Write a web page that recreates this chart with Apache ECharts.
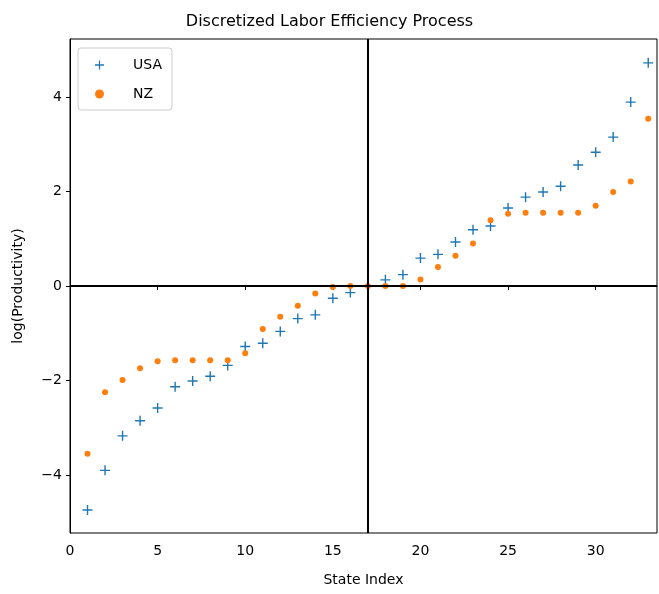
<!DOCTYPE html>
<html>
<head>
	<meta charset="UTF-8">
	<title>Discretized Labor Efficiency Process</title>
	<script src="https://cdn.jsdelivr.net/npm/echarts@6/dist/echarts.min.js"></script>
	<style>
		html, body { margin: 0; padding: 0; background: #fff; }
		#chart { width: 659px; height: 594px; }
	</style>
</head>
<body>
	<div id="chart"></div>
	<script type="text/javascript">
		// 状态序号
		var stateIndex = [1, 2, 3, 4, 5, 6, 7, 8, 9, 10, 11, 12, 13, 14, 15, 16, 17,
			18, 19, 20, 21, 22, 23, 24, 25, 26, 27, 28, 29, 30, 31, 32, 33];
		// USA log productivity
		var usaValues = [-4.74, -3.90, -3.17, -2.85, -2.58, -2.13, -2.01, -1.91, -1.68, -1.28, -1.21, -0.96, -0.69, -0.61, -0.26, -0.14, 0,
			0.13, 0.24, 0.59, 0.67, 0.93, 1.19, 1.27, 1.65, 1.88, 1.99, 2.11, 2.56, 2.83, 3.15, 3.89, 4.72];
		// NZ log productivity
		var nzValues = [-3.55, -2.25, -1.99, -1.74, -1.59, -1.57, -1.57, -1.57, -1.57, -1.42, -0.91, -0.65, -0.42, -0.16, -0.02, 0, 0,
			0, 0, 0.14, 0.40, 0.64, 0.90, 1.39, 1.53, 1.55, 1.55, 1.55, 1.55, 1.70, 1.99, 2.21, 3.54];
		// 坐标轴刻度
		var xTicks = [0, 5, 10, 15, 20, 25, 30];
		var yTicks = [-4, -2, 0, 2, 4];

		var plusPath = 'path://M4.3,0H5.7V4.3H10V5.7H5.7V10H4.3V5.7H0V4.3H4.3Z';

		function pairs(xs, ys) {
			var out = [];
			for (var i = 0; i < xs.length; i++) {
				out.push([xs[i], ys[i]]);
			}
			return out;
		}

		var myChart = echarts.init(document.getElementById('chart'));

		var option = {
			animation: false,
			backgroundColor: '#fff',
			title: {
				text: 'Discretized Labor Efficiency Process',
				left: 'center',
				top: 9,
				textStyle: { fontFamily: 'DejaVu Sans', fontSize: 16, fontWeight: 'normal', color: '#000' }
			},
			legend: {
				orient: 'vertical',
				left: 78,
				top: 48,
				padding: [10, 10, 9, 17],
				itemGap: 15,
				itemWidth: 9,
				itemHeight: 9,
				backgroundColor: '#fff',
				borderColor: '#ccc',
				borderWidth: 1,
				borderRadius: 3,
				textStyle: { fontFamily: 'DejaVu Sans', fontSize: 14, color: '#000', padding: [0, 0, 0, 24] },
				data: [
					{ name: 'USA', icon: plusPath, itemStyle: { opacity: 1 } },
					{ name: 'NZ', icon: 'circle', itemStyle: { opacity: 1 } }
				]
			},
			grid: {
				left: 70,
				right: 2,
				top: 39,
				bottom: 61,
				show: true,
				borderColor: '#000',
				borderWidth: 1
			},
			xAxis: {
				type: 'value',
				min: 0,
				max: 33.5,
				name: 'State Index',
				nameLocation: 'middle',
				nameGap: 40,
				nameTextStyle: { fontFamily: 'DejaVu Sans', fontSize: 14, color: '#000' },
				axisLine: { show: true, lineStyle: { color: '#000', width: 1 } },
				axisTick: { show: true, length: 4, customValues: xTicks, lineStyle: { color: '#000' } },
				axisLabel: {
					margin: 11,
					customValues: xTicks,
					fontFamily: 'DejaVu Sans', fontSize: 14, color: '#000'
				},
				splitLine: { show: false }
			},
			yAxis: {
				type: 'value',
				min: -5.225,
				max: 5.225,
				name: 'log(Productivity)',
				nameLocation: 'middle',
				nameGap: 45,
				nameTextStyle: { fontFamily: 'DejaVu Sans', fontSize: 14, color: '#000' },
				axisLine: { show: true, lineStyle: { color: '#000', width: 1 } },
				axisTick: { show: true, length: 4, customValues: yTicks, lineStyle: { color: '#000' } },
				axisLabel: {
					margin: 8,
					customValues: yTicks,
					fontFamily: 'DejaVu Sans', fontSize: 14, color: '#000',
					formatter: function (v) {
						return v < 0 ? '\u2212' + Math.abs(v) : String(v);
					}
				},
				splitLine: { show: false }
			},
			series: [{
				name: 'axes',
				type: 'scatter',
				data: [],
				z: 1,
				silent: true,
				markLine: {
					silent: true,
					symbol: 'none',
					label: { show: false },
					lineStyle: { color: '#000', width: 2, type: 'solid' },
					data: [{ xAxis: 17 }, { yAxis: 0 }]
				}
			}, {
				name: 'USA',
				type: 'scatter',
				z: 3,
				symbol: plusPath,
				symbolSize: 10,
				itemStyle: { color: '#1f77b4', opacity: 1 },
				data: pairs(stateIndex, usaValues)
			}, {
				name: 'NZ',
				type: 'scatter',
				z: 4,
				symbol: 'circle',
				symbolSize: 6,
				itemStyle: { color: '#ff7f0e', opacity: 1 },
				data: pairs(stateIndex, nzValues)
			}]
		};

		myChart.setOption(option);
	</script>
</body>
</html>
